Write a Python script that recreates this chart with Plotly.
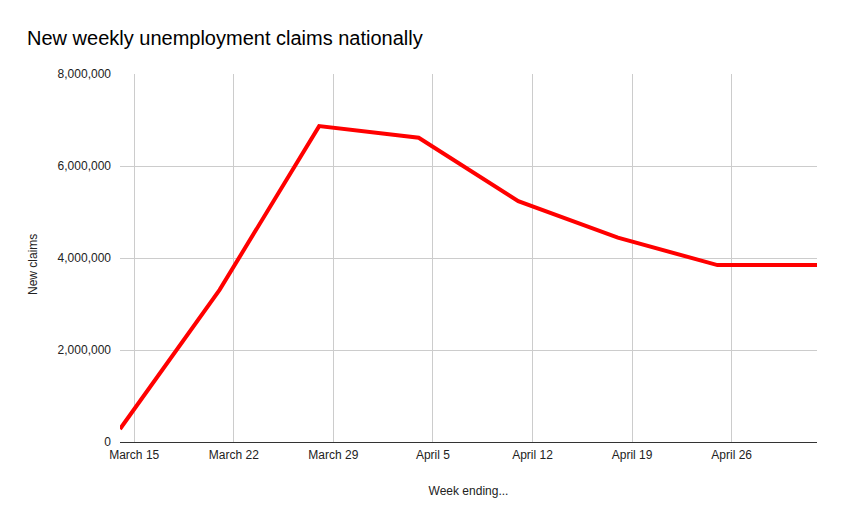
import plotly.graph_objects as go

weeks = ["2020-03-14", "2020-03-21", "2020-03-28", "2020-04-04",
         "2020-04-11", "2020-04-18", "2020-04-25", "2020-05-02"]
claims = [282000, 3307000, 6867000, 6615000, 5237000, 4442000, 3846000, 3846000]

tick_dates = ["2020-03-15", "2020-03-22", "2020-03-29", "2020-04-05",
              "2020-04-12", "2020-04-19", "2020-04-26"]
tick_labels = ["March 15", "March 22", "March 29", "April 5",
               "April 12", "April 19", "April 26"]

font = "Liberation Sans, Arial, sans-serif"

# page body has an 8px margin, so the figure is sized/offset to compensate
W, H = 835, 513

fig = go.Figure()
fig.add_trace(go.Scatter(
    x=weeks, y=claims, mode="lines",
    line=dict(color="#ff0000", width=4),
    hoverinfo="x+y",
))

fig.update_layout(
    width=W, height=H,
    paper_bgcolor="white", plot_bgcolor="white",
    margin=dict(l=112, r=26, t=66, b=79),
    showlegend=False,
    font=dict(family=font, size=12, color="#222222"),
    title=dict(
        text="New weekly unemployment claims nationally",
        font=dict(family=font, size=20, color="#000000"),
        x=19 / W, xref="container", xanchor="left",
        y=1 - 30 / H, yref="container", yanchor="middle",
    ),
    xaxis=dict(
        type="date",
        range=["2020-03-14", "2020-05-02"],
        tickvals=tick_dates, ticktext=tick_labels,
        showgrid=True, gridcolor="#cccccc", gridwidth=1,
        showline=True, linecolor="#333333", linewidth=1,
        ticks="", zeroline=False, ticklabelstandoff=2,
        tickfont=dict(size=12, color="#222222"),
        title=dict(text="Week ending...", font=dict(size=12, color="#222222"), standoff=25),
    ),
    yaxis=dict(
        range=[0, 8000000],
        dtick=2000000, tick0=0,
        tickformat=",",
        showgrid=True, gridcolor="#cccccc", gridwidth=1,
        showline=False, zeroline=False,
        ticks="", ticklabelstandoff=8,
        tickfont=dict(size=12, color="#222222"),
    ),
    annotations=[dict(
        text="New claims", textangle=-90,
        xref="paper", yref="paper",
        x=-87 / 697, y=0.481,
        xanchor="center", yanchor="middle",
        showarrow=False,
        font=dict(family=font, size=12, color="#222222"),
    )],
)

fig.write_html("out.html")
